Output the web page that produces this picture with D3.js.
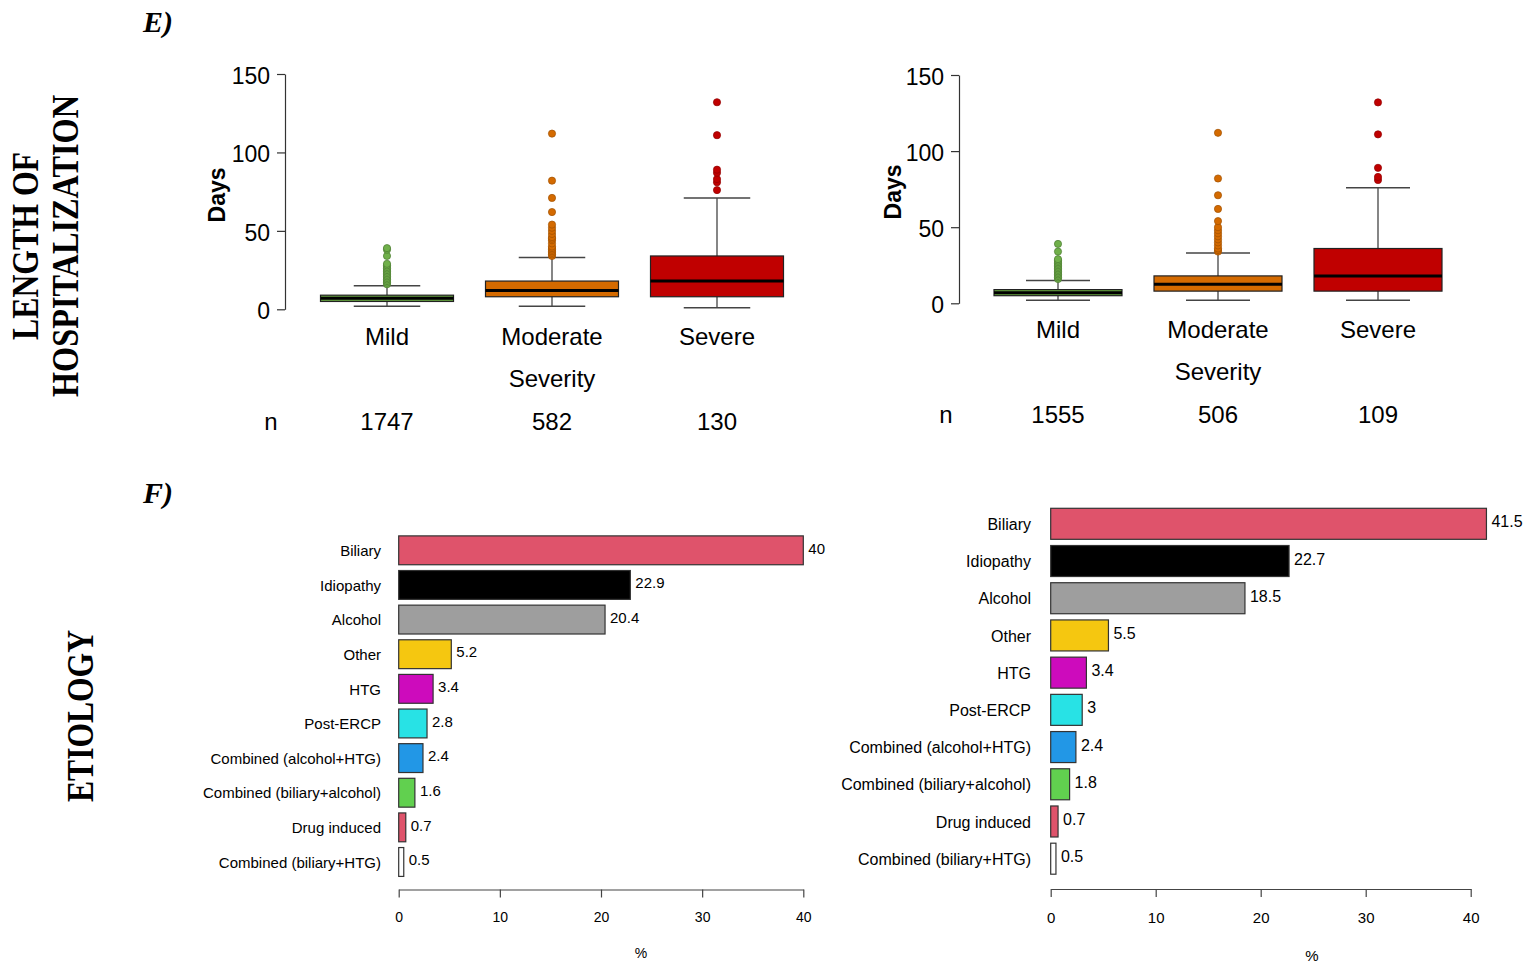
<!DOCTYPE html>
<html>
<head>
<meta charset="utf-8">
<script src="https://cdn.jsdelivr.net/npm/d3@7"></script>
<style>
body { margin: 0; background: #fff; }
text { font-family: "Liberation Sans", Arial, sans-serif; fill: #000; }
.serif { font-family: "Liberation Serif", "Times New Roman", serif; font-weight: bold; }
</style>
</head>
<body>
<div class="container"></div>
<script>
const width = 1526;
const height = 963;

// ---- E) length of hospitalization ----
const severity = ['Mild', 'Moderate', 'Severe'];
const boxColors = ['#67A540', '#D46A00', '#C00000'];
const dayTicks = [0, 50, 100, 150];

// [whiskerLow, q1, median, q3, whiskerHigh]
const statsLeft = [
    [2, 5, 7, 9, 15],
    [2, 8, 12, 18, 33],
    [1, 8, 18, 34, 71]
];
const outliersLeft = [
    [16, 17, 18, 19, 20, 21, 22, 23, 24, 25, 26, 27, 28, 29, 34, 38, 39],
    [34, 35, 36, 37, 38, 39, 40, 42, 44, 45, 46, 48, 50, 52, 54, 62, 71, 82, 112],
    [76, 81, 83, 87, 89, 111, 132]
];
const nLeft = [1747, 582, 130];

const statsRight = [
    [2, 5, 7, 9, 15],
    [2, 8, 12.5, 18, 33],
    [2, 8, 18, 36, 76]
];
const outliersRight = [
    [16, 17, 18, 19, 20, 21, 22, 23, 24, 25, 26, 27, 28, 29, 34, 39],
    [34, 35, 36, 38, 40, 42, 44, 46, 48, 50, 54, 62, 71, 82, 112],
    [81, 83, 89, 111, 132]
];
const nRight = [1555, 506, 109];

// ---- F) etiology ----
const etiology = ['Biliary', 'Idiopathy', 'Alcohol', 'Other', 'HTG', 'Post-ERCP',
    'Combined (alcohol+HTG)', 'Combined (biliary+alcohol)', 'Drug induced', 'Combined (biliary+HTG)'];
const etiologyColors = ['#DF536B', '#000000', '#9E9E9E', '#F5C710', '#CD0BBC', '#28E2E5',
    '#2297E6', '#61D04F', '#DF536B', '#FFFFFF'];
const pctLeft = [40, 22.9, 20.4, 5.2, 3.4, 2.8, 2.4, 1.6, 0.7, 0.5];
const pctRight = [41.5, 22.7, 18.5, 5.5, 3.4, 3, 2.4, 1.8, 0.7, 0.5];
const pctTicks = [0, 10, 20, 30, 40];

const svg = d3.select('.container')
    .append('svg')
    .attr('width', width)
    .attr('height', height);

// panel letters and row titles
svg.append('text').attr('class', 'serif').attr('x', 143).attr('y', 32)
    .style('font-size', '30px').style('font-style', 'italic').text('E)');
svg.append('text').attr('class', 'serif').attr('x', 143).attr('y', 503)
    .style('font-size', '30px').style('font-style', 'italic').text('F)');

function vertTitle(x, y, txt, len) {
    svg.append('text').attr('class', 'serif')
        .attr('transform', 'translate(' + x + ',' + y + ') rotate(-90)')
        .attr('text-anchor', 'middle')
        .attr('textLength', len)
        .attr('lengthAdjust', 'spacingAndGlyphs')
        .style('font-size', '37px')
        .text(txt);
}
vertTitle(38, 246, 'LENGTH OF', 188);
vertTitle(78, 246, 'HOSPITALIZATION', 302);
vertTitle(93, 716, 'ETIOLOGY', 172);

function boxPanel(o) {
    const y = d3.scaleLinear().domain([0, 150]).range([o.y0, o.y150]);
    const x = d3.scalePoint().domain(severity).range([o.c0, o.c2]);
    const G = svg.append('g');

    const ax = G.append('g')
        .attr('transform', 'translate(' + o.axisX + ',0)')
        .call(d3.axisLeft(y).tickValues(dayTicks).tickSize(8).tickSizeOuter(0).tickPadding(7));
    ax.selectAll('path, line').attr('stroke', '#333').attr('stroke-width', 1.2);
    ax.selectAll('text').attr('dy', '0.4em')
        .style('font-size', '23px').style('font-family', '"Liberation Sans", Arial, sans-serif');

    G.append('text')
        .attr('transform', 'translate(' + o.daysX + ',' + o.daysY + ') rotate(-90)')
        .attr('text-anchor', 'middle')
        .style('font-size', '23px').style('font-weight', 'bold')
        .text('Days');

    const bw = o.bw;
    const groups = G.selectAll('g.box')
        .data(severity)
        .join('g')
        .attr('class', 'box')
        .attr('transform', d => 'translate(' + x(d) + ',0)');

    groups.each(function (d, i) {
        const g = d3.select(this);
        const s = o.stats[i];
        // whiskers
        g.append('line').attr('x1', 0).attr('x2', 0).attr('y1', y(s[3])).attr('y2', y(s[4]))
            .attr('stroke', '#444').attr('stroke-width', 1.3);
        g.append('line').attr('x1', 0).attr('x2', 0).attr('y1', y(s[1])).attr('y2', y(s[0]))
            .attr('stroke', '#444').attr('stroke-width', 1.3);
        g.selectAll('line.cap')
            .data([s[0], s[4]])
            .join('line')
            .attr('class', 'cap')
            .attr('x1', -bw / 4).attr('x2', bw / 4)
            .attr('y1', v => y(v)).attr('y2', v => y(v))
            .attr('stroke', '#444').attr('stroke-width', 1.5);
        // box
        g.append('rect')
            .attr('x', -bw / 2).attr('width', bw)
            .attr('y', y(s[3])).attr('height', y(s[1]) - y(s[3]))
            .attr('fill', boxColors[i]).attr('stroke', '#222').attr('stroke-width', 1.2);
        g.append('line').attr('x1', -bw / 2).attr('x2', bw / 2)
            .attr('y1', y(s[2])).attr('y2', y(s[2]))
            .attr('stroke', '#000').attr('stroke-width', 3);
        // outliers
        g.selectAll('circle')
            .data(o.outliers[i])
            .join('circle')
            .attr('cx', 0).attr('cy', v => y(v)).attr('r', 3.6)
            .attr('fill', i === 0 ? '#70B04A' : boxColors[i])
            .attr('stroke', i === 0 ? '#4A7A30' : d3.color(boxColors[i]).darker(0.8))
            .attr('stroke-width', 0.7);
    });

    G.selectAll('text.cat')
        .data(severity)
        .join('text')
        .attr('class', 'cat')
        .attr('x', d => x(d)).attr('y', o.catY)
        .attr('text-anchor', 'middle')
        .style('font-size', '24px')
        .text(d => d);

    G.append('text').attr('x', x('Moderate')).attr('y', o.catY + 42)
        .attr('text-anchor', 'middle').style('font-size', '24px').text('Severity');

    G.append('text').attr('x', o.nX).attr('y', o.catY + 85)
        .attr('text-anchor', 'middle').style('font-size', '24px').text('n');
    G.selectAll('text.n')
        .data(o.n)
        .join('text')
        .attr('class', 'n')
        .attr('x', (d, i) => x(severity[i])).attr('y', o.catY + 85)
        .attr('text-anchor', 'middle')
        .style('font-size', '24px')
        .text(d => d);
}

boxPanel({ y0: 309.3, y150: 74, c0: 387, c2: 717, bw: 133, axisX: 285,
    daysX: 225, daysY: 195, catY: 345, nX: 271,
    stats: statsLeft, outliers: outliersLeft, n: nLeft });
boxPanel({ y0: 303.3, y150: 75, c0: 1058, c2: 1378, bw: 128, axisX: 959,
    daysX: 901, daysY: 192, catY: 338, nX: 946,
    stats: statsRight, outliers: outliersRight, n: nRight });

function barPanel(o) {
    const x = d3.scaleLinear().domain([0, 40]).range([o.x0, o.x40]);
    const y = d3.scaleBand().domain(etiology).range([o.top, o.bottom])
        .paddingInner(1 / 6).paddingOuter(1 / 12);
    const G = svg.append('g');

    G.selectAll('rect')
        .data(o.values)
        .join('rect')
        .attr('x', x(0))
        .attr('y', (d, i) => y(etiology[i]))
        .attr('width', d => x(d) - x(0))
        .attr('height', y.bandwidth())
        .attr('fill', (d, i) => etiologyColors[i])
        .attr('stroke', '#333')
        .attr('stroke-width', 1.2);

    G.selectAll('text.val')
        .data(o.values)
        .join('text')
        .attr('class', 'val')
        .attr('x', d => x(d) + 5)
        .attr('y', (d, i) => y(etiology[i]) + y.bandwidth() / 2 - 2)
        .attr('dy', '0.35em')
        .style('font-size', o.fs + 'px')
        .text(d => d);

    G.selectAll('text.lab')
        .data(etiology)
        .join('text')
        .attr('class', 'lab')
        .attr('x', o.labX)
        .attr('y', d => y(d) + y.bandwidth() / 2 + 0.5)
        .attr('dy', '0.35em')
        .attr('text-anchor', 'end')
        .style('font-size', o.fs + 'px')
        .text(d => d);

    const ax = G.append('g')
        .attr('transform', 'translate(0,' + o.axisY + ')')
        .call(d3.axisBottom(x).tickValues(pctTicks).tickSize(8).tickSizeOuter(0).tickPadding(15));
    ax.selectAll('path, line').attr('stroke', '#444').attr('stroke-width', 1.2);
    ax.selectAll('text').style('font-size', o.tfs + 'px').style('font-family', '"Liberation Sans", Arial, sans-serif');

    G.append('text').attr('x', o.pctX).attr('y', o.pctY)
        .attr('text-anchor', 'middle').style('font-size', o.tfs + 'px').text('%');
}

barPanel({ x0: 398.7, x40: 803.3, top: 533, bottom: 879.3, axisY: 889.5,
    labX: 381, fs: 15, tfs: 14, pctX: 641, pctY: 958,
    values: pctLeft });
barPanel({ x0: 1050.7, x40: 1470.7, top: 505.2, bottom: 877.3, axisY: 889,
    labX: 1031, fs: 16, tfs: 15, pctX: 1312, pctY: 961,
    values: pctRight });
</script>
</body>
</html>
